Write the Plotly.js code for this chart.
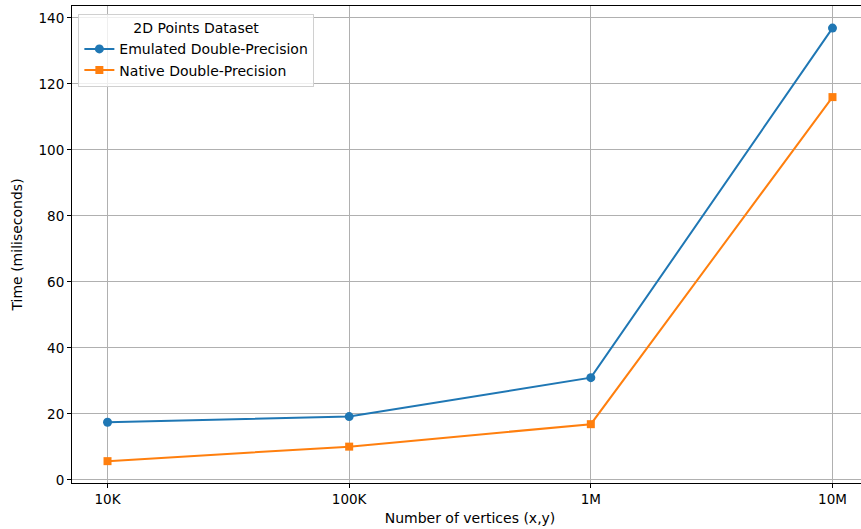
<!DOCTYPE html>
<html>
<head>
<meta charset="utf-8">
<script src="https://cdn.plot.ly/plotly-3.0.1.min.js"></script>
<style>html,body{margin:0;padding:0;overflow:hidden;background:#fff;}</style>
</head>
<body>
<div id="chart"></div>
<script>
const vertices = [1e4, 1e5, 1e6, 1e7];
const tickLabels = ['10K', '100K', '1M', '10M'];
const emulated = [17.5, 19.2, 31.0, 136.9];
const native = [5.7, 10.1, 16.9, 116.0];

const font = {family: 'DejaVu Sans, sans-serif', size: 14, color: '#000'};
const tickFont = {family: 'DejaVu Sans, sans-serif', size: 13.5, color: '#000'};

const traces = [
  {x: vertices, y: emulated, name: 'Emulated Double-Precision', mode: 'lines+markers',
   line: {color: '#1f77b4', width: 2}, marker: {symbol: 'circle', size: 9, color: '#1f77b4'}},
  {x: vertices, y: native, name: 'Native Double-Precision', mode: 'lines+markers',
   line: {color: '#ff7f0e', width: 2}, marker: {symbol: 'square', size: 8, color: '#ff7f0e'}}
];

const layout = {
  width: 870, height: 529,
  margin: {l: 72, r: 2, t: 6, b: 46},
  paper_bgcolor: '#fff', plot_bgcolor: '#fff',
  font: font,
  showlegend: true,
  xaxis: {
    type: 'log', range: [3.853, 7.147],
    tickvals: vertices, ticktext: tickLabels, tickfont: tickFont,
    showgrid: true, gridcolor: '#b0b0b0', gridwidth: 1,
    showline: true, linecolor: '#000', linewidth: 1, mirror: true,
    ticks: 'outside', ticklen: 4, tickcolor: '#000', tickwidth: 1,
    zeroline: false,
    title: {text: 'Number of vertices (x,y)', font: font, standoff: 6}
  },
  yaxis: {
    range: [-0.92, 143.6],
    tickvals: [0, 20, 40, 60, 80, 100, 120, 140], tickfont: tickFont,
    showgrid: true, gridcolor: '#b0b0b0', gridwidth: 1,
    showline: true, linecolor: '#000', linewidth: 1, mirror: true,
    ticks: 'outside', ticklen: 4, tickcolor: '#000', tickwidth: 1,
    zeroline: false,
    title: {text: 'Time (miliseconds)', font: font, standoff: 12}
  },
  legend: {
    x: 0.008, y: 0.983, xanchor: 'left', yanchor: 'top',
    bgcolor: 'rgba(255,255,255,0.8)', bordercolor: '#d0d0d0', borderwidth: 1,
    font: font,
    title: {text: '2D Points Dataset', side: 'top center', font: font}
  }
};

Plotly.newPlot('chart', traces, layout, {displayModeBar: false, staticPlot: true});
</script>
</body>
</html>
